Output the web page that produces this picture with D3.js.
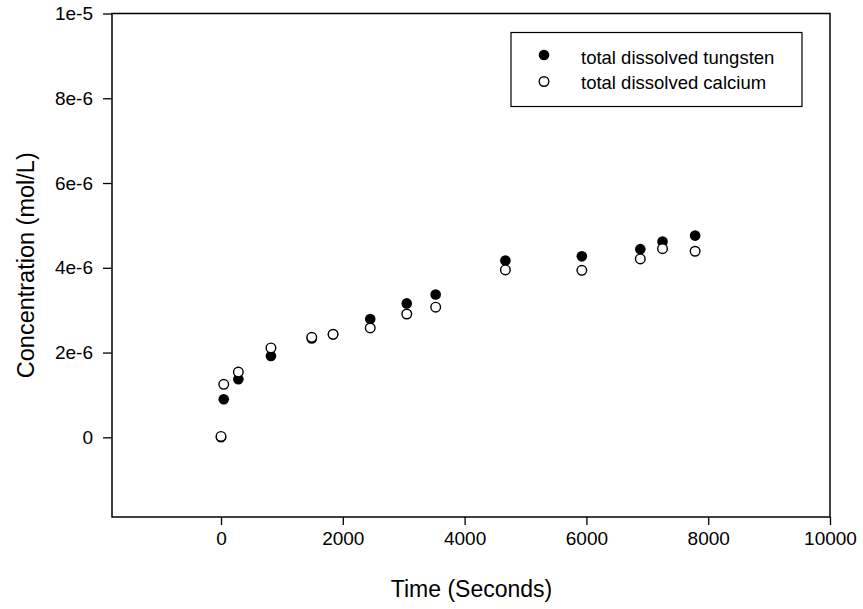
<!DOCTYPE html>
<html><head><meta charset="utf-8">
<script src="https://cdn.jsdelivr.net/npm/d3@7"></script>
<style>body{margin:0;background:#fff}svg{display:block}text{font-family:"Liberation Sans",Arial,sans-serif}</style>
</head><body><svg id="c" width="863" height="609"></svg>
<script>
const timeSec = [0, 45, 285, 820, 1490, 1840, 2450, 3050, 3525, 4670, 5925, 6885, 7250, 7785];
const tungsten = [0.0, 0.9e-6, 1.37e-6, 1.92e-6, 2.33e-6, 2.43e-6, 2.79e-6, 3.16e-6, 3.37e-6, 4.17e-6, 4.27e-6, 4.44e-6, 4.62e-6, 4.76e-6];
const calcium = [0.02e-6, 1.25e-6, 1.54e-6, 2.11e-6, 2.36e-6, 2.43e-6, 2.58e-6, 2.91e-6, 3.07e-6, 3.95e-6, 3.94e-6, 4.21e-6, 4.45e-6, 4.39e-6];
const xTicks = [0, 2000, 4000, 6000, 8000, 10000];
const yTicks = [0, 2e-6, 4e-6, 6e-6, 8e-6, 1e-5];
const yTickLabels = ["0", "2e-6", "4e-6", "6e-6", "8e-6", "1e-5"];
const seriesNames = ["total dissolved tungsten", "total dissolved calcium"];

const svg = d3.select("#c");
const L = 112, R = 830, T = 13.5, B = 517;
const x = d3.scaleLinear().domain([-1790, 10000]).range([L, R]);
const y = d3.scaleLinear().domain([-1.88e-6, 1e-5]).range([B, T]);

svg.append("rect").attr("x", L).attr("y", T).attr("width", R - L).attr("height", B - T)
  .attr("fill", "none").attr("stroke", "#000").attr("stroke-width", 1.5);

const xAx = svg.append("g").attr("transform", `translate(0,${B})`)
  .call(d3.axisBottom(x).tickValues(xTicks).tickSize(8).tickPadding(7).tickFormat(d3.format("d")));
const yAx = svg.append("g").attr("transform", `translate(${L},0)`)
  .call(d3.axisLeft(y).tickValues(yTicks).tickSize(9).tickPadding(10).tickFormat((d, i) => yTickLabels[i]));
[xAx, yAx].forEach(g => {
  g.select(".domain").remove();
  g.selectAll("line").attr("stroke", "#000").attr("stroke-width", 1.3);
  g.selectAll("text").attr("font-size", 19).attr("fill", "#000").attr("font-family", "Liberation Sans, Arial, sans-serif");
});

svg.append("text").attr("x", (L + R) / 2 + 0.5).attr("y", 597).attr("text-anchor", "middle")
  .attr("font-size", 23).text("Time (Seconds)");
svg.append("text").attr("transform", `translate(34,${(T + B) / 2}) rotate(-90)`).attr("text-anchor", "middle")
  .attr("font-size", 23.5).text("Concentration (mol/L)");

const g = svg.append("g");
g.selectAll("circle.w").data(timeSec).join("circle").attr("class", "w")
  .attr("cx", d => x(d)).attr("cy", (d, i) => y(tungsten[i])).attr("r", 5.3).attr("fill", "#000");
g.selectAll("circle.c").data(timeSec).join("circle").attr("class", "c")
  .attr("cx", d => x(d)).attr("cy", (d, i) => y(calcium[i])).attr("r", 4.8)
  .attr("fill", "#fff").attr("stroke", "#000").attr("stroke-width", 1.4);

const lg = svg.append("g");
lg.append("rect").attr("x", 511).attr("y", 32.5).attr("width", 291).attr("height", 74)
  .attr("fill", "#fff").attr("stroke", "#000").attr("stroke-width", 1.2);
lg.append("circle").attr("cx", 544).attr("cy", 55).attr("r", 5.3).attr("fill", "#000");
lg.append("circle").attr("cx", 544).attr("cy", 81.5).attr("r", 4.8).attr("fill", "#fff").attr("stroke", "#000").attr("stroke-width", 1.4);
lg.append("text").attr("x", 581).attr("y", 63.5).attr("font-size", 18.5).text(seriesNames[0]);
lg.append("text").attr("x", 581).attr("y", 89).attr("font-size", 18.5).text(seriesNames[1]);
</script></body></html>
